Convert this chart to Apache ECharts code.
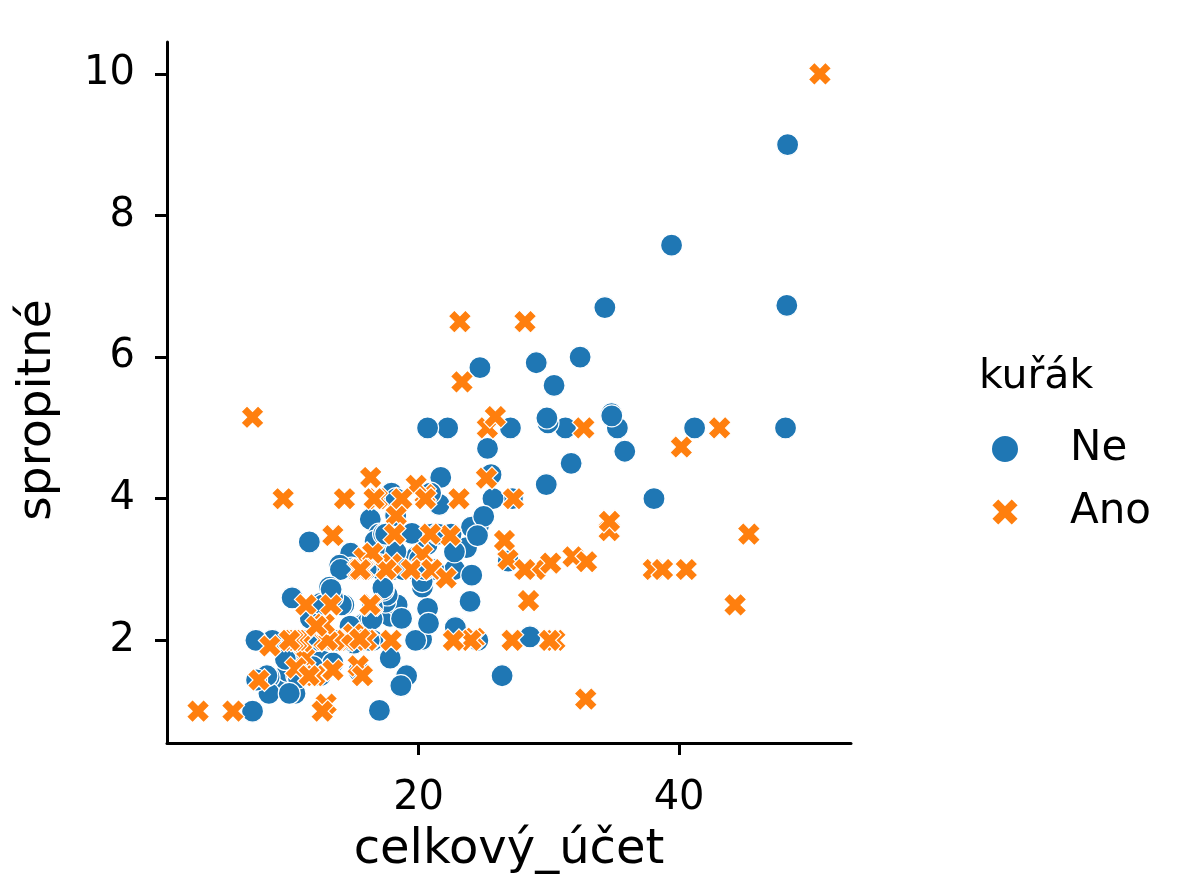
<!DOCTYPE html>
<html>
<head>
<meta charset="utf-8">
<script src="https://cdn.jsdelivr.net/npm/echarts@6/dist/echarts.min.js"></script>
<style>
  html, body { margin: 0; padding: 0; background: #fff; }
  #chart { width: 1182px; height: 896px; }
</style>
</head>
<body>
<div id="chart"></div>
<script>
// kuřák = Ne
var neBill = [16.99,10.34,21.01,23.68,24.59,25.29,8.77,26.88,15.04,14.78,10.27,35.26,15.42,18.43,14.83,21.58,10.33,16.29,16.97,20.65,17.92,20.29,15.77,39.42,19.82,17.81,13.37,12.69,21.7,19.65,9.55,18.35,15.06,20.69,17.78,24.06,16.31,16.93,18.69,31.27,16.04,17.46,13.94,9.68,30.4,18.29,22.23,32.4,28.55,18.04,12.54,10.29,34.81,9.94,25.56,19.49,26.41,48.27,17.59,20.08,16.45,20.23,12.02,17.07,14.73,10.51,27.2,22.76,17.29,16.66,10.07,15.98,34.83,13.03,18.28,24.71,21.16,22.49,22.75,12.46,20.92,18.24,14.0,7.25,38.07,23.95,25.71,17.31,29.93,10.65,12.43,24.08,11.69,13.42,14.26,15.95,12.48,29.8,8.52,14.52,11.38,22.82,19.08,20.27,11.17,12.26,18.26,8.51,10.33,14.15,13.16,17.47,34.3,41.19,27.05,16.43,8.35,18.64,11.87,9.78,7.51,14.07,13.13,17.26,24.55,19.77,29.85,48.17,25.0,13.39,16.49,21.5,12.66,16.21,13.81,24.52,20.76,31.71,20.69,7.56,48.33,15.98,20.45,13.28,11.61,10.77,10.07,35.83,29.03,17.82,18.78];
var neTip = [1.01,1.66,3.5,3.31,3.61,4.71,2.0,3.12,1.96,3.23,1.71,5.0,1.57,3.0,3.02,3.92,1.67,3.71,3.5,3.35,4.08,2.75,2.23,7.58,3.18,2.34,2.0,2.0,4.3,3.0,1.45,2.5,3.0,2.45,3.27,3.6,2.0,3.07,2.31,5.0,2.24,2.54,3.06,1.32,5.6,3.0,5.0,6.0,2.05,3.0,2.5,2.6,5.2,1.56,4.34,3.51,1.5,6.73,2.64,3.15,2.47,2.01,1.97,3.0,2.2,1.25,4.0,3.0,2.71,3.4,1.83,2.03,5.17,2.0,4.0,5.85,3.0,3.5,3.25,1.5,4.08,3.76,3.0,1.0,4.0,2.55,4.0,3.5,5.07,1.5,1.8,2.92,2.31,1.68,2.5,2.0,2.52,4.2,1.48,2.0,2.0,2.18,1.5,2.83,1.5,2.0,3.25,1.25,2.0,2.0,2.75,3.5,6.7,5.0,5.0,2.3,1.5,1.36,1.63,1.73,2.0,2.5,2.0,2.74,2.0,2.0,5.14,5.0,3.75,2.61,2.0,3.5,2.5,2.0,2.0,3.48,2.24,4.5,5.0,1.44,9.0,3.0,3.0,2.72,3.39,1.47,1.25,4.67,5.92,1.75,3.0];
// kuřák = Ano
var anoBill = [38.01,11.24,20.29,13.81,11.02,18.29,3.07,15.01,26.86,25.28,17.92,19.44,32.68,28.97,5.75,16.32,40.17,27.28,12.03,21.01,11.35,15.38,44.3,22.42,15.36,20.49,25.21,14.31,16.0,17.51,10.59,10.63,50.81,15.81,7.25,31.85,16.82,32.9,17.89,14.48,9.6,34.63,34.65,23.33,45.35,23.17,40.55,20.9,30.46,18.15,23.1,15.69,19.81,28.44,15.48,16.58,10.34,43.11,13.0,13.51,18.71,12.74,13.0,16.4,20.53,16.47,26.59,38.73,24.27,12.76,30.06,25.89,13.27,28.17,12.9,28.15,11.59,7.74,30.14,12.16,13.42,8.58,13.42,16.27,10.09,22.12,24.01,15.69,15.53,12.6,32.83,27.18,22.67];
var anoTip = [3.0,1.76,3.21,2.0,1.98,3.76,1.0,2.09,3.14,5.0,3.08,3.0,5.0,3.0,1.0,4.3,4.73,4.0,1.5,3.0,2.5,3.0,2.5,3.48,1.64,4.06,4.29,4.0,2.0,3.0,1.61,2.0,10.0,3.16,5.15,3.18,4.0,3.11,2.0,2.0,4.0,3.55,3.68,5.65,3.5,6.5,3.0,3.5,2.0,3.5,4.0,1.5,4.19,2.56,2.02,4.0,2.0,5.0,2.0,2.0,4.0,2.01,2.0,2.5,4.0,3.23,3.41,3.0,2.03,2.23,2.0,5.16,2.5,6.5,1.1,3.0,1.5,1.44,3.09,2.2,3.48,1.92,1.58,2.5,2.0,2.88,2.0,3.0,3.0,1.0,1.17,2.0,2.0];

var xTicks = [20, 40];
var yTicks = [2, 4, 6, 8, 10];

var blue = '#1f77b4';
var orange = '#ff7f0e';
var ink = '#000';
var xMark = 'path://M2.6,0 L5,2.4 L7.4,0 L10,2.6 L7.6,5 L10,7.4 L7.4,10 L5,7.6 L2.6,10 L0,7.4 L2.4,5 L0,2.6 Z';
var font = 'DejaVu Sans';

function pairs(xs, ys) {
    var out = [];
    for (var i = 0; i < xs.length; i++) out.push([xs[i], ys[i]]);
    return out;
}

var chart = echarts.init(document.getElementById('chart'));

var option = {
    animation: false,
    backgroundColor: '#fff',
    textStyle: { fontFamily: font },
    grid: { left: 167, right: 331, top: 42, bottom: 153 },
    legend: {
        left: 985,
        top: 423,
        orient: 'vertical',
        itemGap: 21,
        itemWidth: 28,
        itemHeight: 28,
        data: [
            { name: 'Ne', icon: 'circle' },
            { name: 'Ano', icon: xMark }
        ],
        textStyle: { fontSize: 42, color: ink, fontFamily: font, padding: [0, 0, 0, 46] }
    },
    graphic: [
        {
            type: 'text',
            left: 979,
            top: 357,
            style: { text: 'kuřák', font: '41px "DejaVu Sans"', fill: ink }
        },
        {
            // popisek osy y (posunutý níž jako v předloze)
            type: 'text',
            x: 38,
            y: 410,
            rotation: Math.PI / 2,
            style: { text: 'spropitné', font: '47px "DejaVu Sans"', fill: ink, align: 'center', verticalAlign: 'middle' }
        }
    ],
    xAxis: {
        type: 'value',
        min: 0.683,
        max: 53.197,
        name: 'celkový_účet',
        nameLocation: 'middle',
        nameGap: 84,
        nameTextStyle: { fontSize: 48, color: ink, fontFamily: font },
        splitLine: { show: false },
        axisLine: { lineStyle: { color: ink, width: 3 } },
        axisTick: { customValues: xTicks, length: 12, lineStyle: { color: ink, width: 3 } },
        axisLabel: { customValues: xTicks, margin: 36, fontSize: 40, color: ink, fontFamily: font }
    },
    yAxis: {
        type: 'value',
        min: 0.55,
        max: 10.45,
        splitLine: { show: false },
        axisLine: { show: true, lineStyle: { color: ink, width: 3 } },
        axisTick: { show: true, customValues: yTicks, length: 12, lineStyle: { color: ink, width: 3 } },
        axisLabel: { customValues: yTicks, margin: 32, fontSize: 40, color: ink, fontFamily: font }
    },
    series: [
        {
            name: 'Ne',
            type: 'scatter',
            symbol: 'circle',
            symbolSize: 22,
            itemStyle: { color: blue, opacity: 1, borderColor: '#fff', borderWidth: 1.2 },
            data: pairs(neBill, neTip)
        },
        {
            name: 'Ano',
            type: 'scatter',
            symbol: xMark,
            symbolSize: 23,
            itemStyle: { color: orange, opacity: 1, borderColor: '#fff', borderWidth: 1.2 },
            data: pairs(anoBill, anoTip)
        }
    ]
};
chart.setOption(option);
</script>
</body>
</html>
